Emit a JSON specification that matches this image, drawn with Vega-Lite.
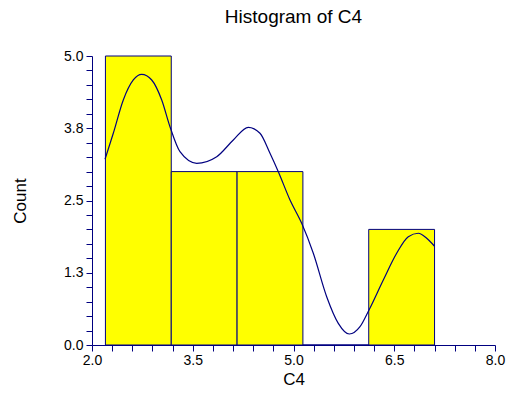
{
  "$schema": "https://vega.github.io/schema/vega-lite/v6.json",
  "width": 403,
  "height": 289,
  "autosize": {"type": "none"},
  "padding": {"left": 92, "top": 56, "right": 12, "bottom": 49},
  "background": "white",
  "config": {
    "view": {"stroke": null},
    "font": "Liberation Sans",
    "axis": {
      "grid": false,
      "domainColor": "#000080",
      "tickColor": "#000080",
      "tickSize": 6,
      "labelColor": "black",
      "labelFontSize": 14,
      "labelFont": "Liberation Sans",
      "labelOverlap": false,
      "labelFlush": false,
      "labelBound": false,
      "titleFont": "Liberation Sans",
      "titleFontWeight": "normal",
      "titleFontSize": 17,
      "titleColor": "black"
    }
  },
  "title": {
    "text": "Histogram of C4",
    "fontSize": 19,
    "fontWeight": "normal",
    "font": "Liberation Sans",
    "color": "black",
    "offset": 22
  },
  "datasets": {
    "bins": [
      {"x0": 2.2, "x1": 3.18, "count": 5},
      {"x0": 3.18, "x1": 4.16, "count": 3},
      {"x0": 4.16, "x1": 5.14, "count": 3},
      {"x0": 5.14, "x1": 6.12, "count": 0},
      {"x0": 6.12, "x1": 7.1, "count": 2}
    ],
    "curve": [
      {"x": 2.194, "y": 3.213},
      {"x": 2.317, "y": 3.663},
      {"x": 2.466, "y": 4.239},
      {"x": 2.615, "y": 4.585},
      {"x": 2.74, "y": 4.683},
      {"x": 2.889, "y": 4.585},
      {"x": 3.038, "y": 4.239},
      {"x": 3.161, "y": 3.777},
      {"x": 3.31, "y": 3.344},
      {"x": 3.559, "y": 3.144},
      {"x": 3.857, "y": 3.258},
      {"x": 4.104, "y": 3.547},
      {"x": 4.327, "y": 3.766},
      {"x": 4.501, "y": 3.663},
      {"x": 4.65, "y": 3.317},
      {"x": 4.774, "y": 2.998},
      {"x": 4.948, "y": 2.509},
      {"x": 5.122, "y": 2.106},
      {"x": 5.295, "y": 1.587},
      {"x": 5.494, "y": 0.836},
      {"x": 5.667, "y": 0.375},
      {"x": 5.831, "y": 0.19},
      {"x": 5.99, "y": 0.317},
      {"x": 6.124, "y": 0.606},
      {"x": 6.337, "y": 1.125},
      {"x": 6.536, "y": 1.587},
      {"x": 6.709, "y": 1.874},
      {"x": 6.858, "y": 1.933},
      {"x": 6.983, "y": 1.846},
      {"x": 7.096, "y": 1.713}
    ]
  },
  "layer": [
    {
      "data": {"name": "bins"},
      "mark": {"type": "rect", "fill": "#FFFF00", "stroke": "#000080", "strokeWidth": 1},
      "encoding": {
        "x": {
          "field": "x0", "type": "quantitative",
          "scale": {"domain": [2, 8], "nice": false, "zero": false},
          "axis": {
            "title": "C4",
            "titlePadding": 4,
            "values": [2.0,2.3,2.6,2.9,3.2,3.5,3.8,4.1,4.4,4.7,5.0,5.3,5.6,5.9,6.2,6.5,6.8,7.1,7.4,7.7,8.0],
            "labelExpr": "abs((datum.value - 2) / 1.5 - round((datum.value - 2) / 1.5)) < 0.01 ? format(datum.value, '.1f') : ''",
            "labelPadding": 2
          }
        },
        "x2": {"field": "x1"},
        "y": {
          "field": "count", "type": "quantitative",
          "scale": {"domain": [0, 5], "nice": false},
          "axis": {
            "title": "Count",
            "titlePadding": 34,
            "values": [0,0.25,0.5,0.75,1,1.25,1.5,1.75,2,2.25,2.5,2.75,3,3.25,3.5,3.75,4,4.25,4.5,4.75,5],
            "labelExpr": "abs(datum.value / 1.25 - round(datum.value / 1.25)) < 0.01 ? format(datum.value, '.1f') : ''",
            "labelPadding": 3
          }
        },
        "y2": {"datum": 0}
      }
    },
    {
      "data": {"name": "curve"},
      "mark": {"type": "line", "color": "#000080", "strokeWidth": 1.2, "interpolate": "monotone"},
      "encoding": {
        "x": {
          "field": "x", "type": "quantitative",
          "axis": {
            "title": "C4",
            "titlePadding": 4,
            "values": [2.0,2.3,2.6,2.9,3.2,3.5,3.8,4.1,4.4,4.7,5.0,5.3,5.6,5.9,6.2,6.5,6.8,7.1,7.4,7.7,8.0],
            "labelExpr": "abs((datum.value - 2) / 1.5 - round((datum.value - 2) / 1.5)) < 0.01 ? format(datum.value, '.1f') : ''",
            "labelPadding": 2
          }
        },
        "y": {
          "field": "y", "type": "quantitative",
          "axis": {
            "title": "Count",
            "titlePadding": 34,
            "values": [0,0.25,0.5,0.75,1,1.25,1.5,1.75,2,2.25,2.5,2.75,3,3.25,3.5,3.75,4,4.25,4.5,4.75,5],
            "labelExpr": "abs(datum.value / 1.25 - round(datum.value / 1.25)) < 0.01 ? format(datum.value, '.1f') : ''",
            "labelPadding": 3
          }
        }
      }
    }
  ]
}
